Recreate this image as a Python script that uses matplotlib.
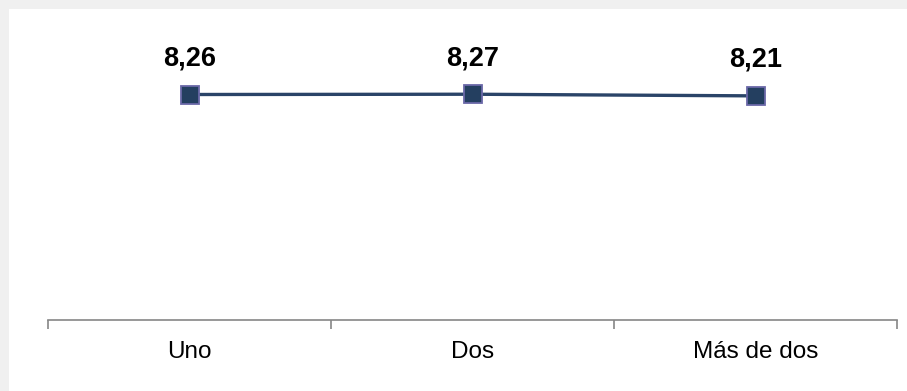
import matplotlib
matplotlib.use("Agg")
import matplotlib.pyplot as plt
from matplotlib.patches import Rectangle

categories = ["Uno", "Dos", "Más de dos"]
values = [8.26, 8.27, 8.21]
labels = ["8,26", "8,27", "8,21"]

plt.rcParams['font.family'] = ['Liberation Sans', 'DejaVu Sans']

W, H = 907, 391
fig = plt.figure(figsize=(W / 100, H / 100), dpi=100)
fig.patch.set_facecolor('#f0f0f0')
fig.patches.append(Rectangle((9 / W, 0), 1 - 9 / W, 1 - 9 / H, transform=fig.transFigure,
                             facecolor='white', edgecolor='none', zorder=-5))

left, right = 48 / W, 897 / W
bottom = (H - 320) / H
top = (H - 47) / H
ax = fig.add_axes([left, bottom, right - left, top - bottom])
ax.set_facecolor('none')
ax.set_zorder(2)

x = list(range(len(categories)))
ax.plot(x, values, color='#2a4468', linewidth=2.4, marker='s', markersize=13,
        markerfacecolor='#243f60', markeredgecolor='#6a68a8', markeredgewidth=1.3,
        clip_on=False, zorder=3)

for xi, v, lab in zip(x, values, labels):
    ax.annotate(lab, (xi, v), xytext=(0, 26), textcoords='offset points',
                ha='center', va='center', fontsize=19.5, fontweight='bold', color='black')

ax.set_xlim(-0.5, len(categories) - 0.5)
ax.set_ylim(0, 10)

for s in ['top', 'right', 'left']:
    ax.spines[s].set_visible(False)
ax.spines['bottom'].set_color('#868686')
ax.spines['bottom'].set_linewidth(1.2)

ax.set_yticks([])
ax.set_xticks(x)
ax.set_xticklabels(categories, fontsize=17.5)
ax.tick_params(axis='x', which='major', length=0, pad=15)
ax.set_xticks([i - 0.5 for i in range(len(categories) + 1)], minor=True)
ax.tick_params(axis='x', which='minor', length=6.5, width=1.2, color='#868686', direction='out')

fig.savefig('out.png', dpi=100, facecolor=fig.get_facecolor())
